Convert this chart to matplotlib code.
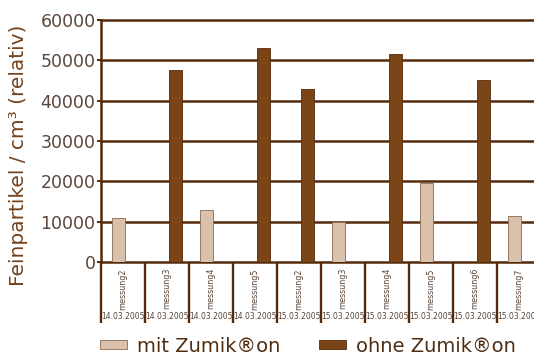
import numpy as np
import matplotlib
matplotlib.use("Agg")
import matplotlib.pyplot as plt
import matplotlib.transforms as mtransforms

# ── Daten ────────────────────────────────────────────────────────────────────
messungen = ["messung2", "messung3", "messung4", "messung5", "messung2",
             "messung3", "messung4", "messung5", "messung6", "messung7"]
datum = ["14.03.2005"] * 4 + ["15.03.2005"] * 6
mit_zumikron = [11000, 0, 13000, 0, 0, 9800, 0, 19500, 0, 11400]
ohne_zumikron = [0, 47500, 0, 53000, 43000, 0, 51500, 0, 45200, 0]
y_ticks = [0, 10000, 20000, 30000, 40000, 50000, 60000]

# ── Farben ───────────────────────────────────────────────────────────────────
DARK = "#7a4417"
LIGHT = "#d9c1ab"
LINE = "#552a0a"
TICKTXT = "#5a463a"
LABEL = "#74421c"
LEGTXT = "#4f2d12"

W, H = 534, 356
fig = plt.figure(figsize=(W / 100, H / 100), dpi=100)
fig.patch.set_facecolor("white")
ax = fig.add_axes([101 / W, 94 / H, 440 / W, 242 / H])

x = np.arange(len(messungen))
bw = 0.3
b1 = ax.bar(x - 0.11, mit_zumikron, width=bw, color=LIGHT,
            edgecolor="#8c6b52", linewidth=0.6, zorder=3, label="mit Zumik®on")
b2 = ax.bar(x + 0.2, ohne_zumikron, width=bw, color=DARK,
            edgecolor=LINE, linewidth=0.6, zorder=3, label="ohne Zumik®on")

ax.set_xlim(-0.5, len(messungen) - 0.5)
ax.set_ylim(0, 60000)
ax.set_yticks(y_ticks)
ax.set_yticklabels([str(v) for v in y_ticks], fontsize=12.5, color=TICKTXT)
ax.yaxis.grid(True, color=LINE, linewidth=1.8, zorder=1)
ax.set_axisbelow(True)
for gl in ax.get_ygridlines():
    gl.set_clip_on(False)

for s in ["top", "right", "bottom"]:
    ax.spines[s].set_visible(False)
ax.spines["left"].set_color(LINE)
ax.spines["left"].set_linewidth(1.8)
ax.tick_params(axis="y", length=3, width=1.4, color=LINE, pad=1)

# Kategorie-Trenner unterhalb der Achse
ax.set_xticks(x)
ax.set_xticklabels([])
ax.tick_params(axis="x", which="major", length=0)
ax.set_xticks(np.arange(-0.5, len(messungen)), minor=True)
ax.tick_params(axis="x", which="minor", length=44, width=1.7, color=LINE,
               direction="out")

trans = mtransforms.blended_transform_factory(ax.transData, ax.transAxes)
for i, (name, d) in enumerate(zip(messungen, datum)):
    ax.text(i, -0.025, name, rotation=90, ha="center", va="top",
            fontsize=5.8, color=TICKTXT, transform=trans)
    ax.text(i, -0.225, d, ha="center", va="center",
            fontsize=5.5, color=TICKTXT, transform=trans)

fig.text(19 / W, 1 - 155 / H, "Feinpartikel / cm³ (relativ)", rotation=90,
         ha="center", va="center", fontsize=14.5, color=LABEL)

fig.legend(handles=[b1, b2], loc="center left",
           bbox_to_anchor=(100 / W, 1 - 346 / H), ncol=2, frameon=False,
           fontsize=14, labelcolor=LEGTXT, handlelength=1.4, handleheight=0.3,
           handletextpad=0.5, columnspacing=2.0, borderpad=0, borderaxespad=0)

fig.savefig("out.png", dpi=100, facecolor="white")
